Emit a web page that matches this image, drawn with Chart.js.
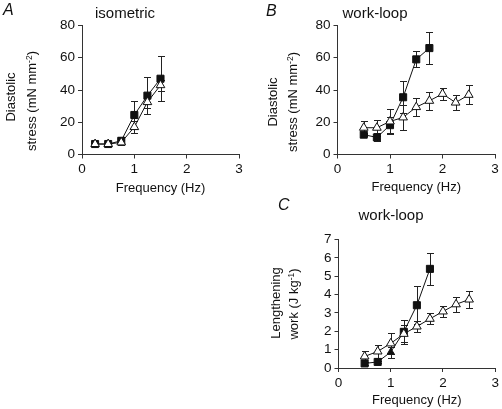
<!DOCTYPE html>
<html>
<head>
<meta charset="utf-8">
<script src="https://cdn.jsdelivr.net/npm/chart.js@4.4.1/dist/chart.umd.min.js"></script>
<style>
  body { margin: 0; background: #fff; }
  #page { position: relative; width: 502px; height: 409px; overflow: hidden;
          font-family: "Liberation Sans", Arial, sans-serif; color: #111; }
  canvas { position: absolute; }
  .txt { position: absolute; white-space: nowrap; line-height: 1; font-size: 15px; }
  .letter { font-style: italic; font-size: 16px; }
  .ylab { position: absolute; white-space: nowrap; line-height: 1; font-size: 13px;
          transform: translate(-50%, -50%) rotate(-90deg); }
  .sup { position: relative; top: -0.5em; font-size: 0.65em; }
</style>
</head>
<body>
<div id="page">
  <canvas id="chartA" width="250" height="200" style="left:0;top:0"></canvas>
  <canvas id="chartB" width="252" height="200" style="left:250px;top:0"></canvas>
  <canvas id="chartC" width="252" height="209" style="left:250px;top:200px"></canvas>

  <div class="txt letter" style="left:3px;top:1.5px">A</div>
  <div class="txt" style="left:125px;top:4.6px;transform:translateX(-50%)">isometric</div>
  <div class="ylab" style="left:10px;top:97px">Diastolic</div>
  <div class="ylab" style="left:31px;top:101px">stress (mN mm<span class="sup">-2</span>)</div>

  <div class="txt letter" style="left:266px;top:3px">B</div>
  <div class="txt" style="left:375px;top:4.6px;transform:translateX(-50%)">work-loop</div>
  <div class="ylab" style="left:272px;top:102px">Diastolic</div>
  <div class="ylab" style="left:292px;top:102px">stress (mN mm<span class="sup">-2</span>)</div>

  <div class="txt letter" style="left:278px;top:196.5px">C</div>
  <div class="txt" style="left:391px;top:206.6px;transform:translateX(-50%)">work-loop</div>
  <div class="ylab" style="left:274.5px;top:303px">Lengthening</div>
  <div class="ylab" style="left:293px;top:304px">work (J kg<span class="sup">-1</span>)</div>
</div>
<script>
// A: isometric, diastolic stress (mN mm-2)
var freqA = [0.25, 0.5, 0.75, 1.0, 1.25, 1.5];
var isoSq = [6.5, 6.5, 8.5, 24.5, 36.5, 47];
var isoSqErr = [1.5, 1, 2.5, 8.5, 11.3, 14];
var isoTri = [6.5, 6.5, 7.5, 17, 32.5, 43];
var isoTriErr = [1, 1, 1.5, 3.6, 3.5, 3.5];

// B: work-loop, diastolic stress
var freqBSq = [0.5, 0.75, 1.0, 1.25, 1.5, 1.75];
var loopSq = [12.3, 10.6, 18.2, 35.5, 59, 66];
var loopSqErr = [1, 2.5, 5, 10, 5, 10];
var freqBTri = [0.5, 0.75, 1.0, 1.25, 1.5, 1.75, 2.0, 2.25, 2.5];
var loopTri = [16.6, 16.6, 20.5, 23, 29.4, 33.3, 37.6, 32.2, 37];
var loopTriErr = [4, 5, 7.6, 8, 5.5, 5.5, 3.6, 4.4, 5.8];

// C: work-loop, lengthening work (J kg-1)
var freqCSq = [0.5, 0.75, 1.0, 1.25, 1.5, 1.75];
var workSq = [0.25, 0.33, 0.87, 1.97, 3.42, 5.4];
var workSqErr = [0.06, 0.06, 0.3, 0.65, 1.05, 0.86];
var freqCTri = [0.5, 0.75, 1.0, 1.25, 1.5, 1.75, 2.0, 2.25, 2.5];
var workTri = [0.63, 0.9, 1.34, 1.86, 2.26, 2.68, 3.08, 3.47, 3.73];
var workTriErr = [0.3, 0.35, 0.56, 0.46, 0.31, 0.3, 0.3, 0.42, 0.48];

Chart.defaults.font.family = '"Liberation Sans", Arial, sans-serif';
Chart.defaults.font.size = 13.5;
Chart.defaults.color = '#111';

function pts(xs, ys) {
    return xs.map(function(x, i) { return {x: x, y: ys[i]} });
}

// error bars, drawn before the markers so the open triangles cover them
var errorBars = {
    id: 'errorBars',
    beforeDatasetsDraw: function(chart) {
        var ctx = chart.ctx
        var xs = chart.scales.x, ys = chart.scales.y
        ctx.save()
        ctx.strokeStyle = '#222'
        ctx.lineWidth = 1
        chart.data.datasets.forEach(function(ds) {
            if (!ds.errors) return
            ds.data.forEach(function(p, i) {
                var e = ds.errors[i]
                var px = Math.round(xs.getPixelForValue(p.x)) + 0.5
                var top = Math.round(ys.getPixelForValue(p.y + e)) + 0.5
                var bot = Math.round(ys.getPixelForValue(p.y - e)) + 0.5
                ctx.beginPath()
                ctx.moveTo(px, top); ctx.lineTo(px, bot)
                ctx.moveTo(px - 3.5, top); ctx.lineTo(px + 3.5, top)
                ctx.moveTo(px - 3.5, bot); ctx.lineTo(px + 3.5, bot)
                ctx.stroke()
            })
        })
        ctx.restore()
    }
};

function makeChart(id, cfg) {
    var sqSet = {
        data: pts(cfg.sqX, cfg.sqY), errors: cfg.sqErr,
        borderColor: '#111', backgroundColor: '#111', borderWidth: 1,
        pointStyle: cfg.sqStyle || 'rect', pointRadius: cfg.sqRadius || 5,
        pointBorderWidth: 1, order: 1
    };
    var triSet = {
        data: pts(cfg.triX, cfg.triY), errors: cfg.triErr,
        borderColor: '#111', backgroundColor: '#fff', borderWidth: 1,
        pointStyle: 'triangle', pointRadius: 5, pointBorderWidth: 1, order: 0
    };
    return new Chart(document.getElementById(id), {
        type: 'scatter',
        data: { datasets: [sqSet, triSet] },
        options: {
            responsive: false,
            animation: false,
            devicePixelRatio: 1,
            showLine: true,
            clip: false,
            layout: { padding: { left: 0, top: cfg.top, right: cfg.right, bottom: 0 } },
            plugins: { legend: { display: false }, tooltip: { enabled: false } },
            scales: {
                x: {
                    type: 'linear', min: 0, max: 3,
                    ticks: { stepSize: 1, padding: 3, autoSkip: false },
                    grid: { drawOnChartArea: false, color: '#333', tickLength: 4 },
                    border: { color: '#333', width: 1 },
                    title: { display: true, text: 'Frequency (Hz)',
                             font: { size: 13, lineHeight: 1.2 },
                             padding: { top: 0, bottom: cfg.titlePad } },
                    afterFit: function(s) { s.height = cfg.xH }
                },
                y: {
                    min: 0, max: cfg.yMax,
                    ticks: { stepSize: cfg.yStep, padding: 3, autoSkip: false },
                    grid: { drawOnChartArea: false, color: '#333', tickLength: 4 },
                    border: { color: '#333', width: 1 },
                    afterFit: function(s) { s.width = cfg.yW }
                }
            }
        },
        plugins: [errorBars]
    });
}

var chartA = makeChart('chartA', {
    sqX: freqA, sqY: isoSq, sqErr: isoSqErr,
    triX: freqA, triY: isoTri, triErr: isoTriErr,
    yMax: 80, yStep: 20, top: 25.5, right: 11, yW: 82, xH: 45.5, titlePad: 4.2
});

var chartB = makeChart('chartB', {
    sqX: freqBSq, sqY: loopSq, sqErr: loopSqErr,
    triX: freqBTri, triY: loopTri, triErr: loopTriErr,
    yMax: 80, yStep: 20, top: 25.5, right: 7, yW: 87.5, xH: 45.5, titlePad: 4.7
});

var chartC = makeChart('chartC', {
    sqX: freqCSq, sqY: workSq, sqErr: workSqErr,
    sqStyle: ['rect', 'rect', 'triangle', 'rect', 'rect', 'rect'],
    sqRadius: [5, 5, 4, 5, 5, 5],
    triX: freqCTri, triY: workTri, triErr: workTriErr,
    yMax: 7, yStep: 1, top: 39.5, right: 6, yW: 88.5, xH: 41, titlePad: 1.2
});
</script>
</body>
</html>
